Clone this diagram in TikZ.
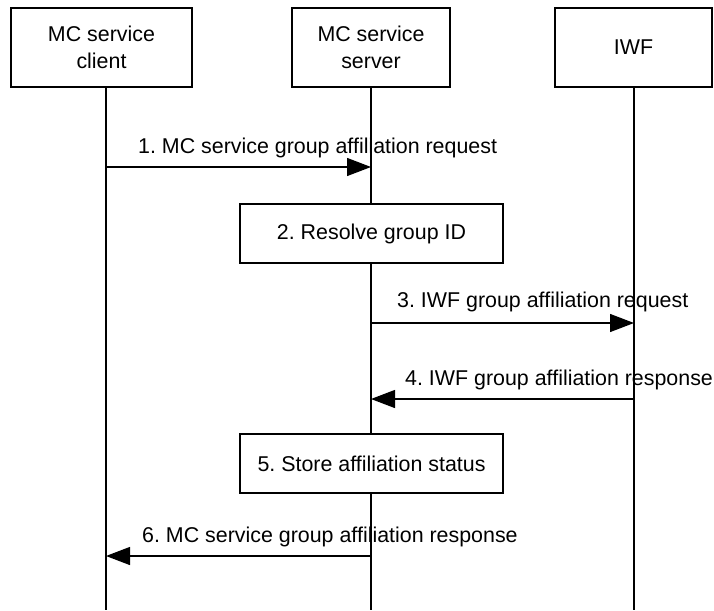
\documentclass[tikz,border=0pt]{standalone}
\usepackage{fontspec}
\setmainfont{Liberation Sans}
\usetikzlibrary{arrows.meta}

\begin{document}
\begin{tikzpicture}[x=1pt,y=-1pt,
    entity/.style={draw,line width=1.3pt,fill=white,align=center,inner sep=0pt},
    action/.style={draw,line width=1.3pt,fill=white,inner sep=0pt,
      minimum width=263pt,minimum height=59pt},
    msg/.style={line width=1.3pt,-{Triangle[length=24pt,width=18pt]}},
    msglabel/.style={anchor=base west,inner sep=0pt},
    lifeline/.style={line width=1.3pt},
    every node/.style={font=\fontsize{21.4}{27}\selectfont\frenchspacing}]
    \useasboundingbox (0,0) rectangle (714,610);
    \coordinate (cl-top) at (106,87);
    \coordinate (cl-bot) at (106,610);
    \coordinate (sv-top) at (371,87);
    \coordinate (sv-bot) at (371,610);
    \coordinate (iw-top) at (634,87);
    \coordinate (iw-bot) at (634,610);
    \draw[lifeline] (cl-top) -- (cl-bot);
    \draw[lifeline] (sv-top) -- (sv-bot);
    \draw[lifeline] (iw-top) -- (iw-bot);
    \node[entity,minimum width=181pt,minimum height=79pt] (client) at (101.5,47.5) {MC service\\client};
    \node[entity,minimum width=158pt,minimum height=79pt] (server) at (371,47.5) {MC service\\server};
    \node[entity,minimum width=157pt,minimum height=79pt] (iwf) at (633.5,47.5) {IWF};
    \coordinate (m1) at (0,167);
    \draw[msg] (cl-top |- m1) -- (sv-top |- m1);
    \node[msglabel] (m1-text) at (138,153) {1. MC service group affiliation request};
    \node[action] (resolve) at (371.5,233.5) {2. Resolve group ID};
    \coordinate (m3) at (0,323);
    \draw[msg] (sv-top |- m3) -- (iw-top |- m3);
    \node[msglabel] (m3-text) at (397,307) {3. IWF group affiliation request};
    \coordinate (m4) at (0,399);
    \draw[msg] (iw-top |- m4) -- (sv-top |- m4);
    \node[msglabel] (m4-text) at (405,385) {4. IWF group affiliation response};
    \node[action] (store) at (371.5,463.5) {5. Store affiliation status};
    \coordinate (m6) at (0,556);
    \draw[msg] (sv-top |- m6) -- (cl-top |- m6);
    \node[msglabel] (m6-text) at (142,542) {6. MC service group affiliation response};
\end{tikzpicture}
\end{document}
